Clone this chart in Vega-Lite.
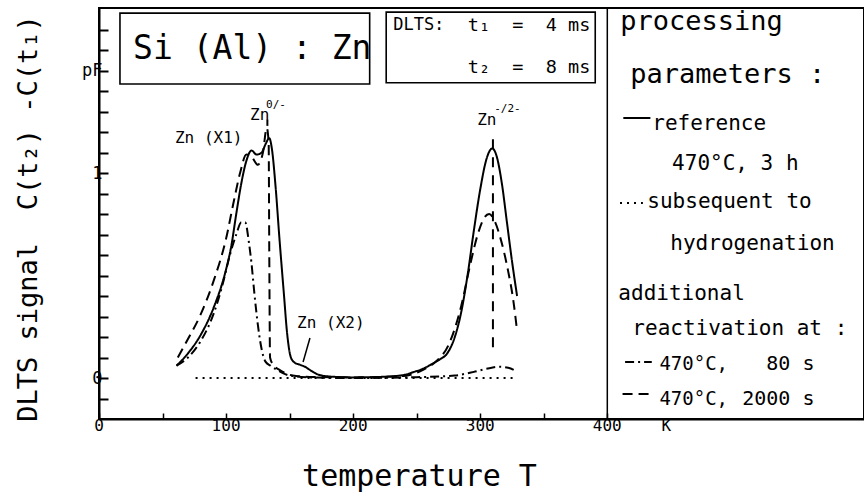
{
  "$schema": "https://vega.github.io/schema/vega-lite/v6.json",
  "width": 765,
  "height": 411,
  "autosize": "none",
  "padding": {"left": 99, "top": 8, "right": 0, "bottom": 75},
  "background": "white",
  "config": {
    "view": {"stroke": "black", "strokeWidth": 2},
    "text": {"font": "DejaVu Sans Mono", "color": "black"},
    "axis": {"labelFont": "DejaVu Sans Mono", "titleFont": "DejaVu Sans Mono", "labelColor": "black", "titleColor": "black", "tickColor": "black", "domainColor": "black", "grid": false, "titleFontWeight": "normal"}
  },
  "datasets": {
    "curves": [
      {"s": "ref", "T": 61, "v": 0.06}, {"s": "ref", "T": 70, "v": 0.12}, {"s": "ref", "T": 80, "v": 0.21}, {"s": "ref", "T": 90, "v": 0.34}, {"s": "ref", "T": 100, "v": 0.53}, {"s": "ref", "T": 104, "v": 0.64}, {"s": "ref", "T": 108, "v": 0.8}, {"s": "ref", "T": 112, "v": 0.95}, {"s": "ref", "T": 116, "v": 1.06}, {"s": "ref", "T": 120, "v": 1.11}, {"s": "ref", "T": 124, "v": 1.09}, {"s": "ref", "T": 128, "v": 1.1}, {"s": "ref", "T": 131, "v": 1.14}, {"s": "ref", "T": 134, "v": 1.17}, {"s": "ref", "T": 136, "v": 1.12}, {"s": "ref", "T": 139, "v": 0.93}, {"s": "ref", "T": 142, "v": 0.68}, {"s": "ref", "T": 145.5, "v": 0.41}, {"s": "ref", "T": 148, "v": 0.22}, {"s": "ref", "T": 151, "v": 0.1}, {"s": "ref", "T": 154, "v": 0.075}, {"s": "ref", "T": 158, "v": 0.065}, {"s": "ref", "T": 162, "v": 0.055}, {"s": "ref", "T": 167, "v": 0.035}, {"s": "ref", "T": 172, "v": 0.018}, {"s": "ref", "T": 180, "v": 0.008}, {"s": "ref", "T": 200, "v": 0.003}, {"s": "ref", "T": 220, "v": 0.005}, {"s": "ref", "T": 240, "v": 0.015}, {"s": "ref", "T": 248, "v": 0.03}, {"s": "ref", "T": 255, "v": 0.045}, {"s": "ref", "T": 261, "v": 0.065}, {"s": "ref", "T": 268, "v": 0.09}, {"s": "ref", "T": 274, "v": 0.12}, {"s": "ref", "T": 280, "v": 0.2}, {"s": "ref", "T": 285, "v": 0.32}, {"s": "ref", "T": 290, "v": 0.5}, {"s": "ref", "T": 295, "v": 0.72}, {"s": "ref", "T": 300, "v": 0.92}, {"s": "ref", "T": 305, "v": 1.07}, {"s": "ref", "T": 309.5, "v": 1.12}, {"s": "ref", "T": 313, "v": 1.08}, {"s": "ref", "T": 317, "v": 0.95}, {"s": "ref", "T": 321, "v": 0.76}, {"s": "ref", "T": 325, "v": 0.57}, {"s": "ref", "T": 329, "v": 0.4},
      {"s": "s2000", "T": 62, "v": 0.1}, {"s": "s2000", "T": 70, "v": 0.19}, {"s": "s2000", "T": 80, "v": 0.31}, {"s": "s2000", "T": 90, "v": 0.47}, {"s": "s2000", "T": 100, "v": 0.68}, {"s": "s2000", "T": 106, "v": 0.86}, {"s": "s2000", "T": 111, "v": 1.0}, {"s": "s2000", "T": 116, "v": 1.09}, {"s": "s2000", "T": 120, "v": 1.08}, {"s": "s2000", "T": 125, "v": 1.04}, {"s": "s2000", "T": 129, "v": 1.1}, {"s": "s2000", "T": 132, "v": 1.22}, {"s": "s2000", "T": 133.5, "v": 1.15}, {"s": "s2000", "T": 134, "v": 0.6}, {"s": "s2000", "T": 134.6, "v": 0.1}, {"s": "s2000", "T": 137, "v": 0.065}, {"s": "s2000", "T": 142, "v": 0.04}, {"s": "s2000", "T": 148, "v": 0.02}, {"s": "s2000", "T": 155, "v": 0.01}, {"s": "s2000", "T": 170, "v": 0.005}, {"s": "s2000", "T": 200, "v": 0.003}, {"s": "s2000", "T": 240, "v": 0.01}, {"s": "s2000", "T": 255, "v": 0.04}, {"s": "s2000", "T": 265, "v": 0.08}, {"s": "s2000", "T": 275, "v": 0.16}, {"s": "s2000", "T": 285, "v": 0.35}, {"s": "s2000", "T": 292, "v": 0.55}, {"s": "s2000", "T": 298, "v": 0.7}, {"s": "s2000", "T": 303, "v": 0.78}, {"s": "s2000", "T": 307, "v": 0.8}, {"s": "s2000", "T": 311, "v": 0.77}, {"s": "s2000", "T": 316, "v": 0.68}, {"s": "s2000", "T": 322, "v": 0.52}, {"s": "s2000", "T": 326, "v": 0.38}, {"s": "s2000", "T": 329, "v": 0.23},
      {"s": "s80", "T": 61, "v": 0.06}, {"s": "s80", "T": 70, "v": 0.1}, {"s": "s80", "T": 80, "v": 0.18}, {"s": "s80", "T": 90, "v": 0.31}, {"s": "s80", "T": 97, "v": 0.45}, {"s": "s80", "T": 103, "v": 0.6}, {"s": "s80", "T": 108, "v": 0.7}, {"s": "s80", "T": 112, "v": 0.76}, {"s": "s80", "T": 115, "v": 0.76}, {"s": "s80", "T": 118, "v": 0.66}, {"s": "s80", "T": 120, "v": 0.56}, {"s": "s80", "T": 122, "v": 0.43}, {"s": "s80", "T": 125, "v": 0.26}, {"s": "s80", "T": 128, "v": 0.14}, {"s": "s80", "T": 131, "v": 0.08}, {"s": "s80", "T": 135, "v": 0.06}, {"s": "s80", "T": 140, "v": 0.04}, {"s": "s80", "T": 150, "v": 0.012}, {"s": "s80", "T": 170, "v": 0.002}, {"s": "s80", "T": 200, "v": 0.0}, {"s": "s80", "T": 250, "v": 0.004}, {"s": "s80", "T": 280, "v": 0.012}, {"s": "s80", "T": 295, "v": 0.03}, {"s": "s80", "T": 305, "v": 0.045}, {"s": "s80", "T": 315, "v": 0.055}, {"s": "s80", "T": 322, "v": 0.05}, {"s": "s80", "T": 328, "v": 0.035},
      {"s": "hyd", "T": 76, "v": 0.0}, {"s": "hyd", "T": 200, "v": 0.0}, {"s": "hyd", "T": 329, "v": 0.0}
    ],
    "samples": [
      {"s": "ref", "T": 412.6, "v": 1.268}, {"s": "ref", "T": 433.9, "v": 1.268},
      {"s": "hyd", "T": 410, "v": 0.854}, {"s": "hyd", "T": 428, "v": 0.854},
      {"s": "s80", "T": 414, "v": 0.078}, {"s": "s80", "T": 435, "v": 0.078},
      {"s": "s2000", "T": 412, "v": -0.078}, {"s": "s2000", "T": 435, "v": -0.078}
    ],
    "pointers": [
      {"p": "x2", "T": 166, "v": 0.195}, {"p": "x2", "T": 160.6, "v": 0.078}
    ],
    "markers": [
      {"p": "m310", "T": 310, "v": 0.15}, {"p": "m310", "T": 310, "v": 1.19},
      {"p": "m133", "T": 132.5, "v": 1.23}, {"p": "m133", "T": 132.5, "v": 1.26}
    ],
    "xlabels": [
      {"T": 0, "t": "0"}, {"T": 100, "t": "100"}, {"T": 200, "t": "200"}, {"T": 300, "t": "300"}, {"T": 400, "t": "400"}, {"T": 446.5, "t": "K"}
    ],
    "boxes": [
      {"x1": 16.5, "x2": 213, "y1": 1.434, "y2": 1.78},
      {"x1": 226, "x2": 390.5, "y1": 1.44, "y2": 1.785}
    ]
  },
  "layer": [
    {
      "data": {"name": "boxes"},
      "mark": {"type": "rect", "fill": null, "stroke": "black", "strokeWidth": 1.6},
      "encoding": {
        "x": {"field": "x1", "type": "quantitative", "scale": {"domain": [0, 602], "nice": false, "zero": false}, "axis": {"values": [0, 50, 100, 150, 200, 250, 300, 350, 400], "tickCount": 200, "labels": false, "tickSize": -6, "tickWidth": 1.5, "domainWidth": 2, "title": "temperature T", "titleFontSize": 30, "titleX": 320, "titleY": 66, "titleBaseline": "alphabetic", "titleAlign": "center"}},
        "x2": {"field": "x2"},
        "y": {"field": "y1", "type": "quantitative", "scale": {"domain": [-0.2, 1.805], "nice": false, "zero": false}, "axis": {"values": [-0.1, 0, 0.1, 0.2, 0.3, 0.4, 0.5, 0.6, 0.7, 0.8, 0.9, 1, 1.1, 1.2, 1.3, 1.4, 1.5, 1.6, 1.7], "tickCount": 200, "labelExpr": "abs(datum.value - 1) < 0.001 ? '1' : abs(datum.value) < 0.001 ? '0' : abs(datum.value - 1.5) < 0.001 ? 'pF' : ''", "labelOverlap": false, "tickSize": -9, "tickWidth": 2, "domainWidth": 2, "labelFontSize": 17, "labelPadding": 6, "title": "DLTS signal\u00a0\u00a0C(t₂) -C(t₁)", "titleFontSize": 27, "titleX": -71, "titleY": 210, "titleAngle": -90, "titleAlign": "center", "titleBaseline": "middle"}},
        "y2": {"field": "y2"}
      }
    },
    {
      "data": {"values": [{"a": 1}]},
      "mark": {"type": "rule", "stroke": "black", "strokeWidth": 1.5},
      "encoding": {"x": {"datum": 400, "type": "quantitative"}}
    },
    {
      "data": {"name": "curves"},
      "mark": {"type": "line", "interpolate": "monotone", "color": "black", "strokeWidth": 2},
      "encoding": {
        "x": {"field": "T", "type": "quantitative"},
        "y": {"field": "v", "type": "quantitative"},
        "detail": {"field": "s"},
        "strokeDash": {"field": "s", "type": "nominal", "legend": null, "scale": {"domain": ["ref", "hyd", "s80", "s2000"], "range": [[1, 0], [2, 5], [9, 4, 2, 4], [10, 6]]}}
      }
    },
    {
      "data": {"name": "samples"},
      "mark": {"type": "line", "color": "black", "strokeWidth": 2},
      "encoding": {
        "x": {"field": "T", "type": "quantitative"},
        "y": {"field": "v", "type": "quantitative"},
        "detail": {"field": "s"},
        "strokeDash": {"field": "s", "type": "nominal", "legend": null}
      }
    },
    {
      "data": {"name": "pointers"},
      "mark": {"type": "line", "color": "black", "strokeWidth": 1.5},
      "encoding": {"x": {"field": "T", "type": "quantitative"}, "y": {"field": "v", "type": "quantitative"}, "detail": {"field": "p"}}
    },
    {
      "data": {"name": "markers"},
      "mark": {"type": "line", "color": "black", "strokeWidth": 2, "strokeDash": [10, 8]},
      "encoding": {"x": {"field": "T", "type": "quantitative"}, "y": {"field": "v", "type": "quantitative"}, "detail": {"field": "p"}}
    },
    {
      "data": {"name": "xlabels"},
      "mark": {"type": "text", "fontSize": 16, "align": "center", "baseline": "alphabetic"},
      "encoding": {"x": {"field": "T", "type": "quantitative"}, "y": {"datum": -0.26, "type": "quantitative"}, "text": {"field": "t"}}
    },
    {
      "data": {"values": [{"t": "Si (Al) : Zn", "T": 26.8, "v": 1.607}]},
      "mark": {"type": "text", "fontSize": 33, "align": "left", "baseline": "middle"},
      "encoding": {"x": {"field": "T", "type": "quantitative"}, "y": {"field": "v", "type": "quantitative"}, "text": {"field": "t"}}
    },
    {
      "data": {"values": [{"t": "DLTS:", "T": 231.5, "v": 1.722}]},
      "mark": {"type": "text", "fontSize": 17, "align": "left", "baseline": "middle"},
      "encoding": {"x": {"field": "T", "type": "quantitative"}, "y": {"field": "v", "type": "quantitative"}, "text": {"field": "t"}}
    },
    {
      "data": {"values": [{"t": "t₁\u00a0\u00a0=\u00a0\u00a04\u00a0ms", "T": 386.6, "v": 1.722}, {"t": "t₂\u00a0\u00a0=\u00a0\u00a08\u00a0ms", "T": 386.6, "v": 1.517}]},
      "mark": {"type": "text", "fontSize": 18.5, "align": "right", "baseline": "middle"},
      "encoding": {"x": {"field": "T", "type": "quantitative"}, "y": {"field": "v", "type": "quantitative"}, "text": {"field": "t"}}
    },
    {
      "data": {"values": [{"t": "processing", "T": 410.2, "v": 1.698}, {"t": "parameters :", "T": 418, "v": 1.439}]},
      "mark": {"type": "text", "fontSize": 27, "align": "left", "baseline": "alphabetic"},
      "encoding": {"x": {"field": "T", "type": "quantitative"}, "y": {"field": "v", "type": "quantitative"}, "text": {"field": "t"}}
    },
    {
      "data": {"values": [
        {"t": "reference", "T": 435.4, "v": 1.21},
        {"t": "470°C, 3 h", "T": 451, "v": 1.015},
        {"t": "subsequent to", "T": 431.5, "v": 0.829},
        {"t": "hydrogenation", "T": 449.6, "v": 0.624},
        {"t": "additional", "T": 408.7, "v": 0.38},
        {"t": "reactivation at :", "T": 419.7, "v": 0.21}
      ]},
      "mark": {"type": "text", "fontSize": 21, "align": "left", "baseline": "alphabetic"},
      "encoding": {"x": {"field": "T", "type": "quantitative"}, "y": {"field": "v", "type": "quantitative"}, "text": {"field": "t"}}
    },
    {
      "data": {"values": [
        {"t": "470°C,", "T": 441, "v": 0.039},
        {"t": "470°C,", "T": 441, "v": -0.132}
      ]},
      "mark": {"type": "text", "fontSize": 19, "align": "left", "baseline": "alphabetic"},
      "encoding": {"x": {"field": "T", "type": "quantitative"}, "y": {"field": "v", "type": "quantitative"}, "text": {"field": "t"}}
    },
    {
      "data": {"values": [{"t": "80 s", "T": 563, "v": 0.039}, {"t": "2000 s", "T": 563, "v": -0.132}]},
      "mark": {"type": "text", "fontSize": 20, "align": "right", "baseline": "alphabetic"},
      "encoding": {"x": {"field": "T", "type": "quantitative"}, "y": {"field": "v", "type": "quantitative"}, "text": {"field": "t"}}
    },
    {
      "data": {"values": [
        {"t": "Zn (X1)", "T": 59.8, "v": 1.146},
        {"t": "Zn", "T": 118.9, "v": 1.259},
        {"t": "Zn", "T": 297.6, "v": 1.234},
        {"t": "Zn (X2)", "T": 155.9, "v": 0.244}
      ]},
      "mark": {"type": "text", "fontSize": 16, "align": "left", "baseline": "alphabetic"},
      "encoding": {"x": {"field": "T", "type": "quantitative"}, "y": {"field": "v", "type": "quantitative"}, "text": {"field": "t"}}
    },
    {
      "data": {"values": [
        {"t": "0/-", "T": 131.5, "v": 1.317},
        {"t": "-/2-", "T": 311, "v": 1.298}
      ]},
      "mark": {"type": "text", "fontSize": 11, "align": "left", "baseline": "alphabetic"},
      "encoding": {"x": {"field": "T", "type": "quantitative"}, "y": {"field": "v", "type": "quantitative"}, "text": {"field": "t"}}
    }
  ]
}
